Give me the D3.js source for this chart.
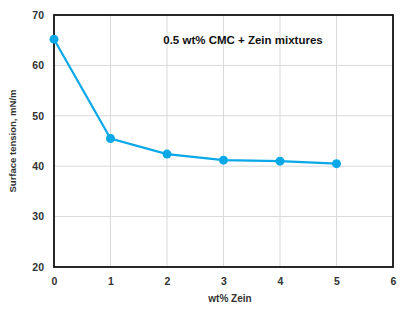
<!DOCTYPE html>
<html>
<head>
<meta charset="utf-8">
<script src="https://cdn.jsdelivr.net/npm/d3@7"></script>
<style>
  body { margin: 0; background: #fff; }
  text { font-family: "Liberation Sans", Arial, sans-serif; }
</style>
</head>
<body>
<script>
const zein = [0, 1, 2, 3, 4, 5];
const tension = [65.2, 45.5, 42.4, 41.2, 41.0, 40.5];
const xTicks = [0, 1, 2, 3, 4, 5, 6];
const yTicks = [20, 30, 40, 50, 60, 70];

const width = 409;
const height = 315;
const margin = { top: 15, right: 16, bottom: 48, left: 54 };

const x = d3.scaleLinear()
  .domain([0, 6])
  .range([margin.left, width - margin.right]);

const y = d3.scaleLinear()
  .domain([20, 70])
  .range([height - margin.bottom, margin.top]);

const svg = d3.select('body').append('svg')
  .attr('width', width)
  .attr('height', height);

// gridlines
svg.append('g')
  .selectAll('line.v')
  .data(xTicks.slice(1, -1))
  .join('line')
    .attr('x1', d => x(d)).attr('x2', d => x(d))
    .attr('y1', y(20)).attr('y2', y(70))
    .attr('stroke', '#d9d9d9').attr('stroke-width', 1);

svg.append('g')
  .selectAll('line.h')
  .data(yTicks.slice(1, -1))
  .join('line')
    .attr('x1', x(0)).attr('x2', x(6))
    .attr('y1', d => y(d)).attr('y2', d => y(d))
    .attr('stroke', '#d9d9d9').attr('stroke-width', 1);

// frame
svg.append('rect')
  .attr('x', x(0)).attr('y', y(70))
  .attr('width', x(6) - x(0)).attr('height', y(20) - y(70))
  .attr('fill', 'none')
  .attr('stroke', '#111')
  .attr('stroke-width', 1.8);

// axes
svg.append('g')
  .attr('transform', `translate(0, ${y(20)})`)
  .call(d3.axisBottom(x).tickValues(xTicks).tickSize(0).tickPadding(11).tickFormat(d3.format('d')))
  .call(g => g.select('.domain').remove())
  .selectAll('text')
    .attr('font-size', '10.5px')
    .attr('font-weight', 'bold')
    .attr('fill', '#333');

svg.append('g')
  .attr('transform', `translate(${x(0)}, 0)`)
  .call(d3.axisLeft(y).tickValues(yTicks).tickSize(0).tickPadding(10).tickFormat(d3.format('d')))
  .call(g => g.select('.domain').remove())
  .selectAll('text')
    .attr('font-size', '10.5px')
    .attr('font-weight', 'bold')
    .attr('fill', '#333');

// axis titles
svg.append('text')
  .attr('x', 230)
  .attr('y', 302)
  .attr('text-anchor', 'middle')
  .attr('font-size', '10px')
  .attr('font-weight', 'bold')
  .attr('fill', '#333')
  .text('wt% Zein');

svg.append('text')
  .attr('transform', `translate(16, ${(y(20) + y(70)) / 2}) rotate(-90)`)
  .attr('text-anchor', 'middle')
  .attr('font-size', '9.5px')
  .attr('font-weight', 'bold')
  .attr('fill', '#333')
  .text('Surface tension, mN/m');

// series
const pts = zein.map((d, i) => [d, tension[i]]);

svg.append('path')
  .datum(pts)
  .attr('fill', 'none')
  .attr('stroke', '#0aa8e6')
  .attr('stroke-width', 2.2)
  .attr('d', d3.line().x(d => x(d[0])).y(d => y(d[1])));

svg.selectAll('circle')
  .data(pts)
  .join('circle')
    .attr('cx', d => x(d[0]))
    .attr('cy', d => y(d[1]))
    .attr('r', 4.5)
    .attr('fill', '#0aa8e6');

// title
svg.append('text')
  .attr('x', 243)
  .attr('y', 44)
  .attr('text-anchor', 'middle')
  .attr('font-size', '11.5px')
  .attr('font-weight', 'bold')
  .attr('fill', '#111')
  .text('0.5 wt% CMC + Zein mixtures');
</script>
</body>
</html>
